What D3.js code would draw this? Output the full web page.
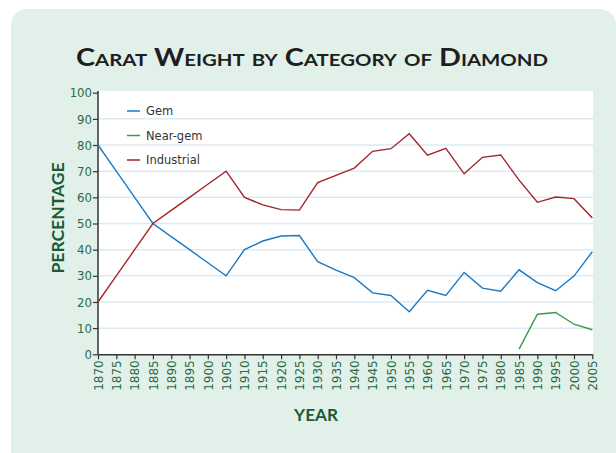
<!DOCTYPE html>
<html>
<head>
<meta charset="utf-8">
<script src="https://cdn.jsdelivr.net/npm/d3@7"></script>
<style>
  body { margin: 0; background: #fff; }
  svg { display: block; }
</style>
</head>
<body>
<div id="chart"></div>
<script>
var years = [1870, 1875, 1880, 1885, 1890, 1895, 1900, 1905, 1910, 1915, 1920, 1925, 1930, 1935,
             1940, 1945, 1950, 1955, 1960, 1965, 1970, 1975, 1980, 1985, 1990, 1995, 2000, 2005];
var gem = [80, 70, 60, 50, 45, 40, 35, 30, 40, 43.3, 45.2, 45.4, 35.4, 32.2,
           29.3, 23.5, 22.5, 16.3, 24.5, 22.5, 31.3, 25.3, 24.1, 32.3, 27.4, 24.3, 29.9, 39.2];
var nearGemYears = [1985, 1990, 1995, 2000, 2005];
var nearGem = [2, 15.3, 16, 11.5, 9.4];
var industrial = [20, 30, 40, 50, 55, 60, 65, 70, 60, 57.1, 55.3, 55.1, 65.6, 68.4,
                  71.2, 77.6, 78.6, 84.3, 76.1, 78.7, 69, 75.3, 76.2, 66.6, 58.1, 60.1, 59.5, 52.1];
var yTicks = [0, 10, 20, 30, 40, 50, 60, 70, 80, 90, 100];

var series = [
  { name: "Gem", color: "#1a7ac6", x: years, y: gem },
  { name: "Near-gem", color: "#3a9a4a", x: nearGemYears, y: nearGem },
  { name: "Industrial", color: "#a0262c", x: years, y: industrial }
];

var width = 616, height = 453;
var svg = d3.select("#chart").append("svg")
    .attr("width", width)
    .attr("height", height);

// background panel
svg.append("rect")
    .attr("x", 11).attr("y", 9)
    .attr("width", 605).attr("height", 470)
    .attr("rx", 16)
    .attr("fill", "#e1f1e9");

var x = d3.scaleLinear().domain([1870, 2005]).range([98, 592.3]);
var y = d3.scaleLinear().domain([0, 100]).range([354.3, 92.7]);

// plot area
svg.append("rect")
    .attr("x", 98).attr("y", 91)
    .attr("width", 593 - 98).attr("height", 354 - 91)
    .attr("fill", "#fff");

// grid
svg.append("g").selectAll("line")
    .data(yTicks.filter(d => d > 0 && d < 100))
    .enter().append("line")
    .attr("x1", 98).attr("x2", 593)
    .attr("y1", d => y(d)).attr("y2", d => y(d))
    .attr("stroke", "#dceaf6")
    .attr("stroke-width", 1.5);

// title
svg.append("text")
    .attr("x", 312).attr("y", 66)
    .attr("text-anchor", "middle")
    .attr("textLength", 472)
    .attr("lengthAdjust", "spacingAndGlyphs")
    .style("font-family", "Lato, 'Open Sans', sans-serif")
    .style("font-weight", "bold")
    .style("font-size", "24px")
    .style("font-variant", "small-caps")
    .attr("fill", "#1e1e1e")
    .text("Carat Weight by Category of Diamond");

// y axis
var yAxis = d3.axisLeft(y).tickValues(yTicks).tickSize(5).tickSizeOuter(0);
var gy = svg.append("g")
    .attr("transform", "translate(98,0)")
    .call(yAxis);
gy.select(".domain").attr("stroke", "#333").attr("stroke-width", 1.5)
    .attr("d", "M0," + 91 + "V" + y(0));
gy.selectAll(".tick line").attr("stroke", "#333").attr("stroke-width", 1.2);
gy.selectAll(".tick text")
    .attr("x", -6)
    .attr("fill", "#2b6a46")
    .style("font-family", "'Liberation Sans Narrow', 'DejaVu Sans Condensed', sans-serif")
    .style("font-size", "13px");

// x axis
var xAxis = d3.axisBottom(x).tickValues(years).tickFormat(d3.format("d")).tickSize(5).tickSizeOuter(0);
var gx = svg.append("g")
    .attr("transform", "translate(0," + y(0) + ")")
    .call(xAxis);
gx.select(".domain").attr("stroke", "#333").attr("stroke-width", 1.5);
gx.selectAll(".tick line").attr("stroke", "#333").attr("stroke-width", 1.2);
gx.selectAll(".tick text")
    .attr("transform", "rotate(-90)")
    .attr("x", -6).attr("y", 0).attr("dy", "0.35em")
    .attr("text-anchor", "end")
    .attr("fill", "#2b6a46")
    .style("font-family", "'DejaVu Sans', sans-serif")
    .style("font-size", "12px");

// axis titles
svg.append("text")
    .attr("transform", "translate(64,218) rotate(-90)")
    .attr("text-anchor", "middle")
    .attr("textLength", 111)
    .attr("lengthAdjust", "spacingAndGlyphs")
    .style("font-family", "Lato, 'Open Sans', sans-serif")
    .style("font-weight", "bold")
    .style("font-size", "17px")
    .attr("fill", "#1b5a36")
    .text("PERCENTAGE");

svg.append("text")
    .attr("x", 316).attr("y", 421)
    .attr("text-anchor", "middle")
    .attr("textLength", 44)
    .attr("lengthAdjust", "spacingAndGlyphs")
    .style("font-family", "Lato, 'Open Sans', sans-serif")
    .style("font-weight", "bold")
    .style("font-size", "17px")
    .attr("fill", "#1b5a36")
    .text("YEAR");

// lines
var line = d3.line()
    .x(d => x(d[0]))
    .y(d => y(d[1]));

svg.append("g").selectAll("path")
    .data(series)
    .enter().append("path")
    .attr("d", s => line(d3.zip(s.x, s.y)))
    .attr("fill", "none")
    .attr("stroke", s => s.color)
    .attr("stroke-width", 1.4)
    .attr("stroke-linejoin", "miter");

// legend
var legend = svg.append("g").selectAll("g")
    .data(series)
    .enter().append("g")
    .attr("transform", (s, i) => "translate(127," + (111 + i * 24.5) + ")");
legend.append("line")
    .attr("x1", 0).attr("x2", 13)
    .attr("stroke", s => s.color)
    .attr("stroke-width", 1.5);
legend.append("text")
    .attr("x", 19).attr("dy", "0.35em")
    .style("font-family", "'DejaVu Sans', sans-serif")
    .style("font-size", "11.5px")
    .attr("fill", "#333")
    .text(s => s.name);
</script>
</body>
</html>
